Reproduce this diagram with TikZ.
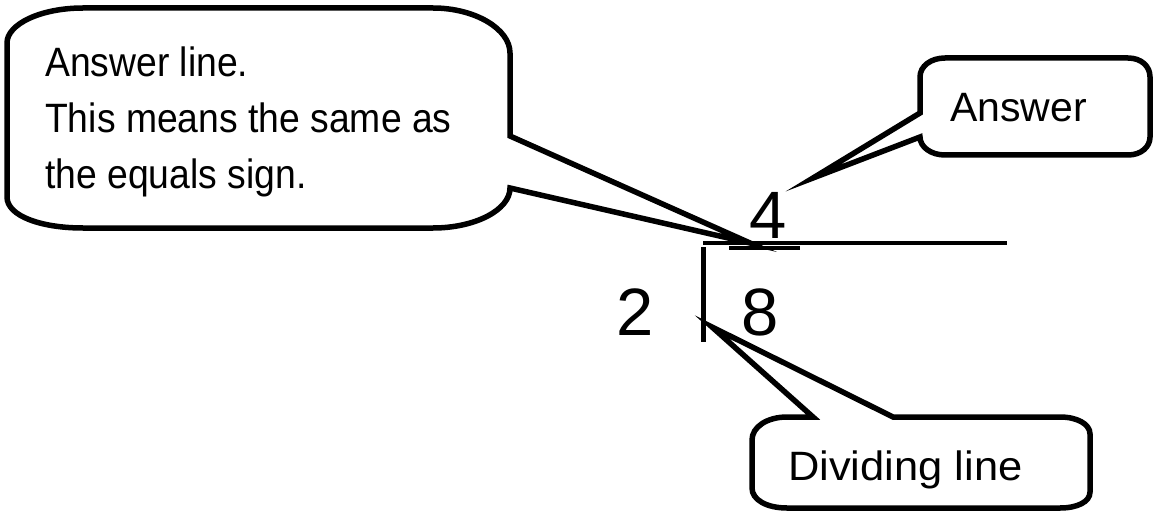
\documentclass[tikz,border=0pt]{standalone}
\usepackage{fontspec}
\setmainfont{Liberation Sans}
\newfontfamily\narrowfont{Liberation Sans}[FakeStretch=0.91]
\newfontfamily\wideFont{Liberation Sans}[FakeStretch=1.06]
\begin{document}
\begin{tikzpicture}[x=1pt,y=-1pt,
  bubble/.style={draw=black,line width=5.5pt,fill=white,line join=miter,miter limit=20},
  rule/.style={draw=black,line width=4.5pt},
  label/.style={inner sep=0pt,anchor=base west,font=\fontsize{41}{56}\selectfont},
  digit/.style={inner sep=0pt,anchor=base,font=\fontsize{67}{67}\selectfont}]
\useasboundingbox[fill=white] (0,0) rectangle (1155,513);

% big callout
\coordinate (tipA) at (750,243);
\path[bubble] (7,43) .. controls (7,24) and (41,8) .. (83,8) -- (433,8)
  .. controls (475,8) and (510,29) .. (510,53) -- (510,136) -- (tipA) -- (510,188)
  .. controls (510,210) and (475,228) .. (433,228) -- (83,228)
  .. controls (41,228) and (7,216) .. (7,197) -- cycle;
\node[label,font=\fontsize{41}{56}\narrowfont] (a1) at (45,77) {Answer line.};
\node[label,font=\fontsize{41}{56}\narrowfont] (a2) at (45,133) {This means the same as};
\node[label,font=\fontsize{41}{56}\narrowfont] (a3) at (45,188) {the equals sign.};

% answer callout
\coordinate (tipB) at (813,178);
\path[bubble] (920,113) -- (920,77) .. controls (920,66) and (931,58) .. (945,58) -- (1128,58)
  .. controls (1141,58) and (1150,66) .. (1150,77) -- (1150,137)
  .. controls (1150,147) and (1141,155) .. (1128,155) -- (945,155)
  .. controls (931,155) and (920,147) .. (920,137) -- (tipB) -- cycle;
\node[label] (ans) at (950,122) {Answer};

% dividing callout
\coordinate (tipC) at (712,327);
\path[bubble] (813,417) -- (tipC) -- (893,417) -- (1060,417)
  .. controls (1077,417) and (1090,424) .. (1090,434) -- (1090,492)
  .. controls (1090,502) and (1077,508) .. (1060,508) -- (787,508)
  .. controls (767,508) and (752,500) .. (752,488) -- (752,440)
  .. controls (752,427) and (767,417) .. (787,417) -- cycle;
\node[label,font=\fontsize{41}{56}\wideFont] (div) at (788,480) {Dividing line};

% division layout
\coordinate (hl) at (703,243);
\coordinate (hr) at (1007,243);
\coordinate (ul) at (729,248);
\coordinate (ur) at (800,248);
\coordinate (vt) at (703,247);
\coordinate (vb) at (703,342);
\draw[rule] (hl) -- (hr);
\draw[rule] (ul) -- (ur);
\draw[rule,line width=5pt] (vt) -- (vb);
\node[digit] (q) at (768,238) {4};
\node[digit] (d) at (635,335) {2};
\node[digit] (n) at (760,335) {8};
\end{tikzpicture}
\end{document}
